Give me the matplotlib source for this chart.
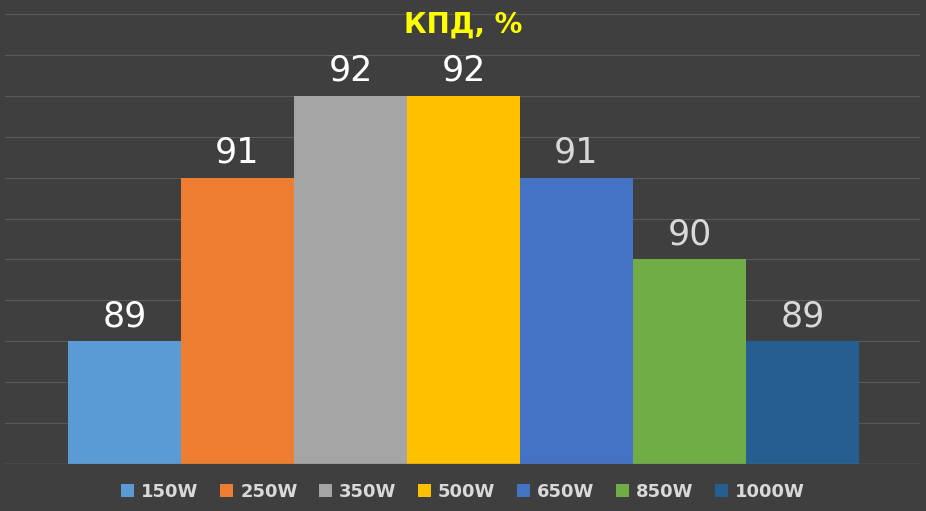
import matplotlib
matplotlib.use("Agg")
import matplotlib.pyplot as plt
from matplotlib.patches import Patch

categories = ["150W", "250W", "350W", "500W", "650W", "850W", "1000W"]
values = [89, 91, 92, 92, 91, 90, 89]
colors = ["#5b9bd5", "#ed7d31", "#a5a5a5", "#ffc000", "#4472c4", "#70ad47", "#255e91"]
label_colors = ["white", "white", "white", "white", "#d9d9d9", "#d9d9d9", "#d9d9d9"]

bg = "#3f3f3f"
fig = plt.figure(figsize=(9.26, 5.11), dpi=100, facecolor=bg)
ax = fig.add_axes([5 / 926, 47 / 511, 915 / 926, 450 / 511], facecolor=bg)

x = list(range(len(categories)))
ax.bar(x, values, width=1.0, color=colors, zorder=2)
for xi, v, lc in zip(x, values, label_colors):
    ax.text(xi, v + 0.1, str(v), ha="center", va="bottom", color=lc, fontsize=25,
            fontweight="medium")

ax.set_ylim(87.5, 93.0)
ax.set_xlim(-1.057, 7.04)
ax.set_yticks([87.5 + 0.5 * i for i in range(12)])
ax.grid(axis="y", color="#5a5a5a", linewidth=0.8, zorder=0)
ax.tick_params(left=False, bottom=False, labelleft=False, labelbottom=False)
for s in ax.spines.values():
    s.set_visible(False)
ax.axhline(87.5, color="#6a6a6a", linewidth=1, zorder=3)

fig.text(0.5, 0.952, "КПД, %", ha="center", va="center", color="#ffff00",
         fontsize=20, fontweight="bold")

handles = [Patch(facecolor=c, label=l) for c, l in zip(colors, categories)]
fig.legend(handles=handles, loc="center", bbox_to_anchor=(0.5, 0.037), ncol=7,
           frameon=False, labelcolor="#d9d9d9", fontsize=13, handlelength=0.7,
           handleheight=0.7, handletextpad=0.4, columnspacing=1.2,
           prop={"size": 13, "weight": "bold"})

fig.savefig("out.png", dpi=100, facecolor=bg)
